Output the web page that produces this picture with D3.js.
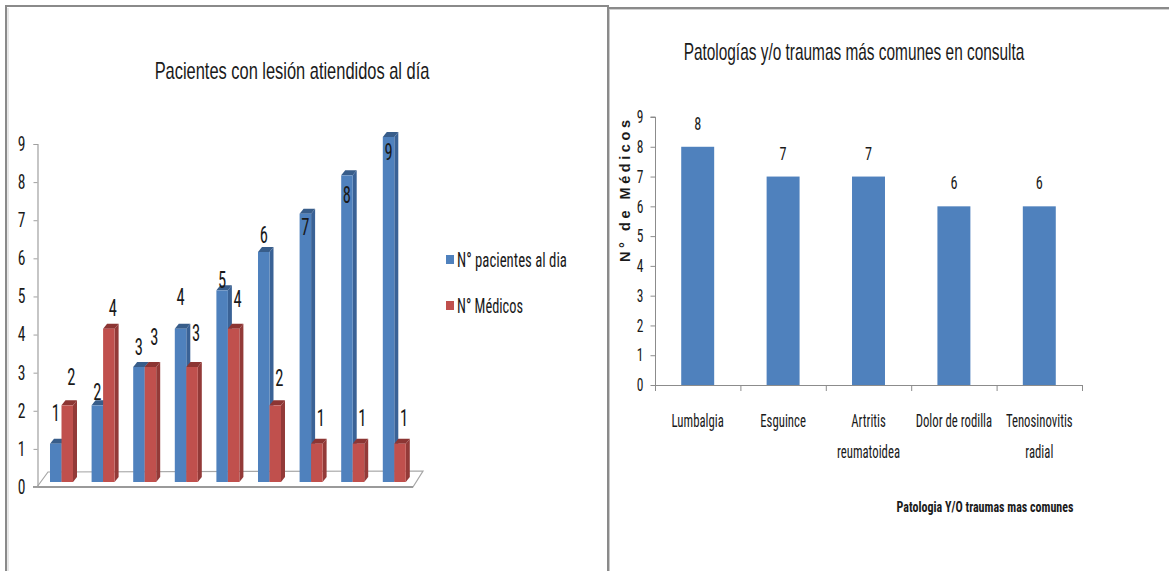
<!DOCTYPE html>
<html>
<head>
<meta charset="utf-8">
<script src="https://cdn.jsdelivr.net/npm/d3@7"></script>
<style>
  html, body { margin: 0; padding: 0; background: #ffffff; }
  svg { display: block; }
  .narrow { font-family: "Liberation Sans Narrow", "Arial Narrow", "Roboto Condensed", Roboto, sans-serif; }
</style>
</head>
<body>
<svg id="chart" width="1169" height="571"></svg>
<script>
// ---- Left chart: patients attended per day vs doctors ----
const dias = ["1", "2", "3", "4", "5", "6", "7", "8", "9"];
const seriesNames = ["N° pacientes  al dia", "N° Médicos"];
const pacientes = [1, 2, 3, 4, 5, 6, 7, 8, 9];
const medicos = [2, 4, 3, 3, 4, 2, 1, 1, 1];
const leftTicks = [0, 1, 2, 3, 4, 5, 6, 7, 8, 9];

// ---- Right chart: most common pathologies ----
const patologias = [["Lumbalgia"], ["Esguince"], ["Artritis", "reumatoidea"], ["Dolor de rodilla"], ["Tenosinovitis", "radial"]];
const casos = [8, 7, 7, 6, 6];
const rightTicks = [0, 1, 2, 3, 4, 5, 6, 7, 8, 9];

// label nudges (px, relative to the top of each 3D column)
const pacLabelDy = [-31, -13, -20, -32, -10, -17, 13, 20, 15];
const medLabelDy = [-28, -21, -30, -34, -30, -27, -26, -26, -26];

const colors = {
  blue: "#4F81BD", blueSide: "#3A6296", blueTop: "#385D8A",
  red: "#C0504D", redSide: "#933A38", redTop: "#8C3533",
  axis: "#8C8C8C", frame: "#8A8A8A", text: "#1a1a1a"
};

// squeeze text horizontally (condensed look) using a transform around its anchor
function squeeze(sel, f) {
  sel.each(function () {
    const t = d3.select(this);
    const x = +t.attr("x") || 0, y = +t.attr("y") || 0;
    t.attr("x", 0).attr("y", 0).attr("transform", `translate(${x},${y}) scale(${f},1)`);
  });
}
// squeeze text so that it spans a given width
function fitWidth(sel, w) {
  sel.each(function () {
    const f = w / this.getComputedTextLength();
    d3.select(this).call(squeeze, f);
  });
}

const svg = d3.select("#chart");

// panel frames
const frames = svg.append("g").attr("fill", "none");
frames.append("path").attr("d", "M6,571 V6 H608 V571").attr("stroke", colors.frame).attr("stroke-width", 2);
frames.append("path").attr("d", "M8,571 V8").attr("stroke", "#d0d0d0").attr("stroke-width", 1);
frames.append("path").attr("d", "M609.5,571 V9").attr("stroke", "#c8c8c8").attr("stroke-width", 1);
frames.append("path").attr("d", "M608,8 H1169").attr("stroke", colors.frame).attr("stroke-width", 2);
frames.append("path").attr("d", "M610,9.5 H1169").attr("stroke", "#d0d0d0").attr("stroke-width", 1);

// ================= LEFT CHART =================
const L = svg.append("g");

L.append("text")
  .attr("x", 292).attr("y", 79)
  .attr("text-anchor", "middle")
  .attr("font-family", "Arial, 'Liberation Sans', sans-serif")
  .attr("font-size", 23).attr("fill", colors.text)
  .text("Pacientes con lesión atiendidos al día")
  .call(fitWidth, 275);

const yAxisL = d3.scaleLinear().domain([0, 9]).range([487, 144]);
const yBarL = d3.scaleLinear().domain([0, 9]).range([482, 137]);
const xL = d3.scaleBand().domain(dias).range([40.7, 415.1]).paddingInner(0.447).paddingOuter(0.2235);
const xSub = d3.scaleBand().domain(seriesNames).range([0, xL.bandwidth()]);
const depthX = 4, depthY = 5;

// floor of the 3D plot
const floorG = L.append("g");
floorG.append("path")
  .attr("d", `M${37},${yAxisL(0)} L${48},${yAxisL(0) - 15} L${423},${yAxisL(0) - 16} L${413},${yAxisL(0)} Z`)
  .attr("fill", "#ffffff").attr("stroke", "#a6a6a6").attr("stroke-width", 1.2);
floorG.append("line")
  .attr("x1", 33).attr("x2", 413).attr("y1", yAxisL(0)).attr("y2", yAxisL(0))
  .attr("stroke", "#9a9a9a").attr("stroke-width", 2.2);

// vertical axis
const axL = d3.axisLeft(yAxisL).tickValues(leftTicks).tickSize(4).tickPadding(8).tickFormat(d3.format("d"));
const gAxL = L.append("g").attr("transform", "translate(37.5,0)").call(axL);
gAxL.select(".domain").attr("stroke", "#a0a0a0").attr("stroke-width", 1.2);
gAxL.selectAll(".tick line").attr("stroke", "#a0a0a0");
gAxL.selectAll(".tick text").attr("class", "narrow").attr("font-size", 20).attr("fill", colors.text).call(squeeze, 0.78);

// 3D column drawing
function column(g, x, w, v, front, side, top) {
  const y0 = yBarL(0), y1 = yBarL(v);
  g.append("path")
    .attr("d", `M${x + w},${y1} L${x + w + depthX},${y1 - depthY} L${x + w + depthX},${y0 - depthY} L${x + w},${y0} Z`)
    .attr("fill", side);
  g.append("path")
    .attr("d", `M${x},${y1} L${x + depthX},${y1 - depthY} L${x + w + depthX},${y1 - depthY} L${x + w},${y1} Z`)
    .attr("fill", top);
  g.append("rect").attr("x", x).attr("y", y1).attr("width", w).attr("height", y0 - y1).attr("fill", front);
}

const barsL = L.append("g");
dias.forEach((d, i) => {
  const g = barsL.append("g");
  const bw = xSub.bandwidth();
  column(g, xL(d) + xSub(seriesNames[0]), bw, pacientes[i], colors.blue, colors.blueSide, colors.blueTop);
  column(g, xL(d) + xSub(seriesNames[1]), bw, medicos[i], colors.red, colors.redSide, colors.redTop);
});

// data labels
const labelsL = L.append("g").attr("class", "narrow").attr("font-size", 23).attr("fill", colors.text).attr("text-anchor", "middle");
dias.forEach((d, i) => {
  const bw = xSub.bandwidth();
  labelsL.append("text")
    .attr("x", xL(d) + xSub(seriesNames[0]) + bw / 2)
    .attr("y", yBarL(pacientes[i]) + pacLabelDy[i] + 8)
    .text(pacientes[i]);
  labelsL.append("text")
    .attr("x", xL(d) + xSub(seriesNames[1]) + bw / 2 + 4)
    .attr("y", yBarL(medicos[i]) + medLabelDy[i] + 8)
    .text(medicos[i]);
});
labelsL.selectAll("text").call(squeeze, 0.72);

// legend
const legend = L.append("g");
const legendColors = [colors.blue, colors.red];
const legendWidths = [110, 66];
seriesNames.forEach((s, i) => {
  const ly = 260 + i * 46;
  legend.append("rect").attr("x", 446).attr("y", ly - 5).attr("width", 8).attr("height", 9).attr("fill", legendColors[i]);
  legend.append("text")
    .attr("class", "narrow")
    .attr("x", 457).attr("y", ly + 7)
    .attr("font-size", 20).attr("fill", colors.text)
    .text(s)
    .call(fitWidth, legendWidths[i]);
});

// ================= RIGHT CHART =================
const R = svg.append("g");

R.append("text")
  .attr("x", 854).attr("y", 60)
  .attr("text-anchor", "middle")
  .attr("font-family", "Arial, 'Liberation Sans', sans-serif")
  .attr("font-size", 23).attr("fill", colors.text)
  .text("Patologías y/o traumas más comunes en consulta")
  .call(fitWidth, 341);

const catKeys = patologias.map(p => p.join(" "));
const xR = d3.scaleBand().domain(catKeys).range([655, 1082]).paddingInner(0.614).paddingOuter(0.307);
const yR = d3.scaleLinear().domain([0, 9]).range([385, 117]);

// y axis
const axR = d3.axisLeft(yR).tickValues(rightTicks).tickSize(5).tickPadding(7).tickFormat(d3.format("d"));
const gAxR = R.append("g").attr("transform", "translate(655.5,0)").call(axR);
gAxR.select(".domain").attr("stroke", colors.axis).attr("d", `M-5,${yR(9)}H0V${yR(0)}`);
gAxR.selectAll(".tick line").attr("stroke", colors.axis);
gAxR.selectAll(".tick text").attr("class", "narrow").attr("font-size", 18).attr("fill", colors.text).call(squeeze, 0.75);

// bars
R.append("g").selectAll("rect").data(casos).join("rect")
  .attr("x", (d, i) => xR(catKeys[i]))
  .attr("y", d => yR(d))
  .attr("width", xR.bandwidth())
  .attr("height", d => yR(0) - yR(d))
  .attr("fill", colors.blue);

// x axis with tick marks between categories
const step = xR.step();
const gx = R.append("g");
gx.append("line").attr("x1", 655).attr("x2", 1082).attr("y1", yR(0) + 0.5).attr("y2", yR(0) + 0.5).attr("stroke", colors.axis);
gx.selectAll("line.tk").data(d3.range(catKeys.length + 1)).join("line")
  .attr("class", "tk")
  .attr("x1", i => 655.5 + i * step).attr("x2", i => 655.5 + i * step)
  .attr("y1", yR(0)).attr("y2", yR(0) + 6)
  .attr("stroke", colors.axis);

// category labels, one text per line
const catLabels = R.append("g").attr("class", "narrow").attr("font-size", 18).attr("fill", colors.text).attr("text-anchor", "middle");
patologias.forEach((lines, i) => {
  lines.forEach((ln, j) => {
    catLabels.append("text")
      .attr("x", xR(catKeys[i]) + xR.bandwidth() / 2)
      .attr("y", 427 + j * 31)
      .text(ln);
  });
});
catLabels.selectAll("text").call(squeeze, 0.71);

// value labels
R.append("g").attr("class", "narrow").attr("font-size", 19).attr("fill", colors.text).attr("text-anchor", "middle")
  .selectAll("text").data(casos).join("text")
  .attr("x", (d, i) => xR(catKeys[i]) + xR.bandwidth() / 2)
  .attr("y", d => yR(d) - 17)
  .text(d => d)
  .call(squeeze, 0.75);

// axis titles
R.append("text")
  .attr("transform", `translate(630,191) rotate(-90)`)
  .attr("text-anchor", "middle")
  .attr("font-family", "Arial, 'Liberation Sans', sans-serif")
  .attr("font-weight", "bold").attr("font-size", 14.5).attr("fill", colors.text)
  .attr("textLength", 142).attr("lengthAdjust", "spacing")
  .text("N° de Médicos");

R.append("text")
  .attr("class", "narrow")
  .attr("x", 985).attr("y", 512)
  .attr("text-anchor", "middle")
  .attr("font-weight", "bold").attr("font-size", 14).attr("fill", colors.text)
  .text("Patologia Y/O traumas mas comunes")
  .call(fitWidth, 177);
</script>
</body>
</html>
